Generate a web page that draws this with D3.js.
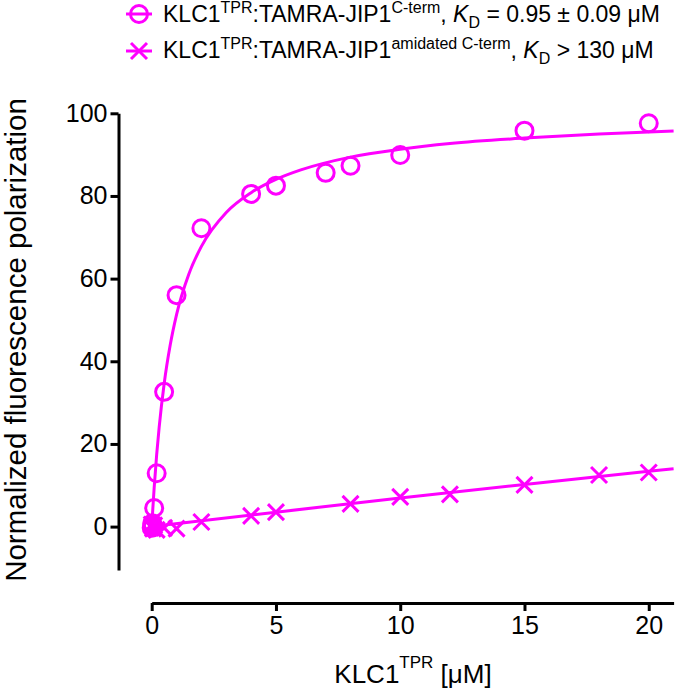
<!DOCTYPE html>
<html>
<head>
<meta charset="utf-8">
<script src="https://cdn.jsdelivr.net/npm/d3@7/dist/d3.min.js"></script>
<style>
  html, body { margin: 0; padding: 0; background: #fff; }
  svg { display: block; font-family: "Liberation Sans", Arial, Helvetica, sans-serif; }
</style>
</head>
<body>
<svg id="chart" width="676" height="689"></svg>
<script>
// ---------- data ----------
// Series 1: KLC1TPR:TAMRA-JIP1 C-term (open circles)
const s1X = [0, 0.02, 0.05, 0.1, 0.2, 0.5, 1, 2, 4, 5, 7, 8, 10, 15, 20];
const s1Y = [-0.3, 0.8, 0.2, 4.5, 12.9, 32.6, 56.0, 72.2, 80.5, 82.5, 85.6, 87.3, 89.9, 95.8, 97.6];
// Fitted curve 1
const fit1X = [0, 0.1, 0.2, 0.3, 0.5, 0.75, 1, 1.5, 2, 3, 4, 5, 6, 8, 10, 12, 15, 18, 21];
const fit1Y = [0, 9.5, 17.4, 24.0, 34.5, 44.1, 51.3, 61.2, 67.8, 76.0, 80.8, 84.0, 86.3, 89.4, 91.3, 92.7, 94.0, 95.0, 95.7];

// Series 2: KLC1TPR:TAMRA-JIP1 amidated C-term (crosses)
const s2X = [0, 0.05, 0.1, 0.2, 0.5, 1, 2, 4, 5, 8, 10, 12, 15, 18, 20];
const s2Y = [0.5, -0.5, 0.3, -0.8, -0.3, -0.5, 1.1, 2.6, 3.5, 5.5, 7.2, 7.8, 10.1, 12.5, 13.1];
// Fitted curve 2
const fit2X = [0, 5, 10, 15, 20, 21];
const fit2Y = [0, 3.5, 6.9, 10.2, 13.4, 14.0];

// Ticks
const xTicks = [0, 5, 10, 15, 20];
const yTicks = [0, 20, 40, 60, 80, 100];

// Legend labels
const legendRows = [
  { parts: [["KLC1",""],["TPR","sup"],[":TAMRA-JIP1",""],["C-term","sup"],[", ",""],["K","it"],["D","sub"],[" = 0.95 ± 0.09 μM",""]], marker: "circle" },
  { parts: [["KLC1",""],["TPR","sup"],[":TAMRA-JIP1",""],["amidated C-term","sup"],[", ",""],["K","it"],["D","sub"],[" > 130 μM",""]], marker: "cross" }
];

// ---------- drawing ----------
const MAG = "#ff00ff";
const svg = d3.select("#chart");

const x = d3.scaleLinear().domain([0, 21]).range([151.7, 673.6]);
const y = d3.scaleLinear().domain([-10.5, 100]).range([570, 113.3]);

const xAxisY = 603;
const yAxisX = 118.5;

// Y axis
const yAxis = d3.axisLeft(y).tickValues(yTicks).tickSize(8).tickPadding(3).tickSizeOuter(0);
const gy = svg.append("g").attr("transform", `translate(${yAxisX},0)`).call(yAxis);
gy.select(".domain").attr("stroke", "#000").attr("stroke-width", 3);
gy.selectAll(".tick line").attr("stroke", "#000").attr("stroke-width", 3);
gy.selectAll(".tick text").attr("font-size", 25).attr("fill", "#000")
  .attr("font-family", "Liberation Sans, Arial, sans-serif");

// X axis
const xAxis = d3.axisBottom(x).tickValues(xTicks).tickSize(8).tickPadding(5).tickSizeOuter(0);
const gx = svg.append("g").attr("transform", `translate(0,${xAxisY})`).call(xAxis);
gx.select(".domain").attr("stroke", "#000").attr("stroke-width", 3);
gx.selectAll(".tick line").attr("stroke", "#000").attr("stroke-width", 3);
gx.selectAll(".tick text").attr("font-size", 25).attr("fill", "#000")
  .attr("font-family", "Liberation Sans, Arial, sans-serif");

// Axis titles
const xt = svg.append("text").attr("x", 413).attr("y", 683).attr("text-anchor", "middle")
  .attr("font-size", 26).attr("fill", "#000");
xt.append("tspan").text("KLC1");
xt.append("tspan").attr("font-size", 17).attr("dy", -15).text("TPR");
xt.append("tspan").attr("dy", 15).text(" [μM]");

svg.append("text")
  .attr("transform", "translate(26,340) rotate(-90)")
  .attr("text-anchor", "middle").attr("font-size", 29.5).attr("fill", "#000")
  .text("Normalized fluorescence polarization");

// Fit lines
const line = d3.line().x(d => x(d[0])).y(d => y(d[1])).curve(d3.curveMonotoneX);
const fit1 = fit1X.map((v, i) => [v, fit1Y[i]]);
const fit2 = fit2X.map((v, i) => [v, fit2Y[i]]);
svg.append("path").datum(fit1).attr("d", line).attr("fill", "none").attr("stroke", MAG).attr("stroke-width", 3);
svg.append("path").datum(fit2).attr("d", line).attr("fill", "none").attr("stroke", MAG).attr("stroke-width", 3);

// Markers
const R = 8.5, H = 8;
const crossPath = `M${-H},${-H}L${H},${H}M${-H},${H}L${H},${-H}`;

svg.append("g").selectAll("circle").data(s1X.map((v, i) => [v, s1Y[i]])).join("circle")
  .attr("cx", d => x(d[0])).attr("cy", d => y(d[1])).attr("r", R)
  .attr("fill", "none").attr("stroke", MAG).attr("stroke-width", 3);

svg.append("g").selectAll("path").data(s2X.map((v, i) => [v, s2Y[i]])).join("path")
  .attr("transform", d => `translate(${x(d[0])},${y(d[1])})`)
  .attr("d", crossPath).attr("fill", "none").attr("stroke", MAG).attr("stroke-width", 3);

// Legend
const legY = [22, 58];
const legMarkY = [14, 51];
legendRows.forEach((row, i) => {
  const g = svg.append("g");
  g.append("line").attr("x1", 126).attr("x2", 152).attr("y1", legMarkY[i]).attr("y2", legMarkY[i])
    .attr("stroke", MAG).attr("stroke-width", 3);
  if (row.marker === "circle") {
    g.append("circle").attr("cx", 139).attr("cy", legMarkY[i]).attr("r", R)
      .attr("fill", "none").attr("stroke", MAG).attr("stroke-width", 3);
  } else {
    g.append("path").attr("transform", `translate(139,${legMarkY[i]})`).attr("d", crossPath)
      .attr("fill", "none").attr("stroke", MAG).attr("stroke-width", 3);
  }
  const t = g.append("text").attr("x", 163).attr("y", legY[i]).attr("font-size", 23).attr("fill", "#000");
  let shift = 0;
  row.parts.forEach(([txt, kind]) => {
    const sp = t.append("tspan").text(txt);
    let target = 0;
    if (kind === "sup") { sp.attr("font-size", 16); target = -9; }
    else if (kind === "sub") { sp.attr("font-size", 16); target = 6; }
    else if (kind === "it") { sp.attr("font-style", "italic"); }
    sp.attr("dy", target - shift);
    shift = target;
  });
});
</script>
</body>
</html>
